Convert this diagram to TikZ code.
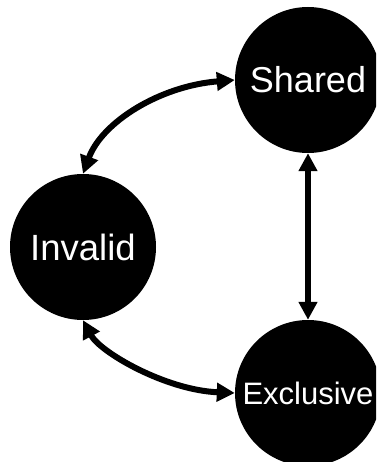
\documentclass[tikz,border=0pt]{standalone}
\usepackage{fontspec}
\setmainfont{Liberation Sans}
\usetikzlibrary{arrows.meta}
\begin{document}
\begin{tikzpicture}[x=1pt,y=-1pt,
  state/.style={circle,fill=black,draw=none,minimum size=146pt,inner sep=0pt,text=white},
  link/.style={line width=6pt,{Triangle[length=18pt,width=18pt]}-{Triangle[length=18pt,width=18pt]},shorten <=0pt,shorten >=0pt}]
\clip (0,0) rectangle (376,462);
\node[state,font=\fontsize{36}{40}\selectfont] (shared) at (308,80) {Shared};
\node[state,font=\fontsize{36.5}{40}\selectfont] (invalid) at (83,247) {Invalid};
\node[state,font=\fontsize{31}{34}\selectfont] (excl) at (308,393) {Exclusive};
\draw[link] (invalid.north) .. controls (102,122) and (160,86) .. (shared.west);
\draw[link] (invalid.south) .. controls (100,352) and (165,390) .. (excl.west);
\draw[link] (shared.south) -- (excl.north);
\end{tikzpicture}
\end{document}
